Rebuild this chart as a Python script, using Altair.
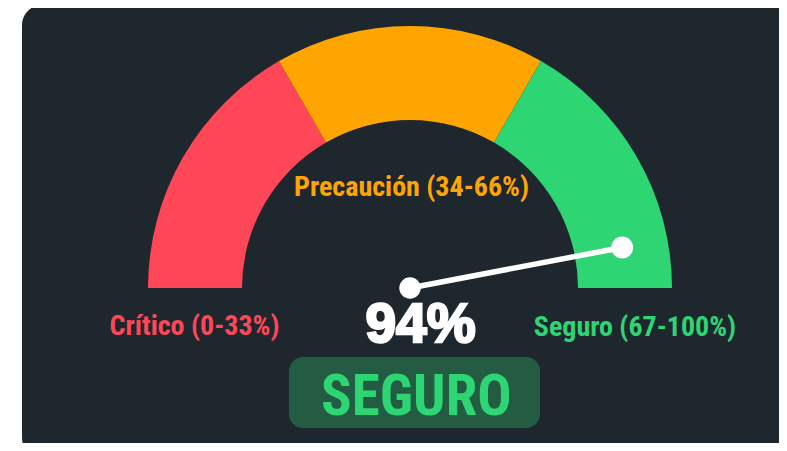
import math
import altair as alt
import pandas as pd

# ---- data ----
zone_names = ["Crítico", "Precaución", "Seguro"]
zone_start = [0, 33.33, 66.67]
zone_end = [33.33, 66.67, 100]
zone_colors = ["#ff4757", "#ffa502", "#2ed573"]
zone_labels = ["Crítico (0-33%)", "Precaución (34-66%)", "Seguro (67-100%)"]
gauge_value = [94]
status_text = ["SEGURO"]

# ---- layout ----
W, H = 771, 435
CX, CY = 402, 280
R_OUT, R_IN = 262, 168
NEEDLE = 216
BG = "#1f272e"
LABEL_FONT = "Roboto Condensed, Roboto, sans-serif"

zones = pd.DataFrame({"name": zone_names, "start": zone_start, "end": zone_end})
val_df = pd.DataFrame({"value": gauge_value})
status_df = pd.DataFrame({"status": status_text})

panel = alt.Chart(pd.DataFrame({"k": [0]})).mark_rect(
    fill=BG, cornerRadius=20
).encode(x=alt.value(14), x2=alt.value(W + 40), y=alt.value(-3), y2=alt.value(H + 15))

arcs = alt.Chart(zones).mark_arc(radius=R_OUT, radius2=R_IN).encode(
    theta=alt.Theta("start:Q", scale=alt.Scale(domain=[0, 100], range=[-math.pi / 2, math.pi / 2])),
    theta2="end:Q",
    color=alt.Color("name:N", scale=alt.Scale(domain=zone_names, range=zone_colors), legend=None),
    x=alt.value(CX),
    y=alt.value(CY),
)

needle_base = alt.Chart(val_df).transform_calculate(
    cx=f"{CX}",
    cy=f"{CY}",
    tx=f"{CX} - {NEEDLE} * cos(PI * datum.value / 100)",
    ty=f"{CY} - {NEEDLE} * sin(PI * datum.value / 100)",
    label="datum.value + '%'",
)

needle = needle_base.mark_rule(color="white", strokeWidth=5.5, strokeCap="round").encode(
    x=alt.X("cx:Q", scale=None, axis=None),
    y=alt.Y("cy:Q", scale=None, axis=None),
    x2="tx:Q",
    y2="ty:Q",
)
tip_dot = needle_base.mark_circle(color="white", opacity=1, size=480).encode(
    x=alt.X("tx:Q", scale=None, axis=None),
    y=alt.Y("ty:Q", scale=None, axis=None),
)
center_dot = needle_base.mark_circle(color="white", opacity=1, size=460).encode(
    x=alt.X("cx:Q", scale=None, axis=None),
    y=alt.Y("cy:Q", scale=None, axis=None),
)

label_pos = [(186.5, 327), (403.5, 188), (627, 328)]
label_layers = []
for i, (lx, ly) in enumerate(label_pos):
    label_layers.append(
        alt.Chart(pd.DataFrame({"t": [zone_labels[i]]})).mark_text(
            font=LABEL_FONT, fontWeight="bold", fontSize=28, color=zone_colors[i],
            align="center", baseline="alphabetic",
        ).encode(text="t:N", x=alt.value(lx), y=alt.value(ly))
    )

value_text = needle_base.mark_text(
    font="Liberation Sans", fontWeight="bold", fontSize=55, color="white",
    stroke="white", strokeWidth=2.5, align="center", baseline="alphabetic",
).encode(text="label:N", x=alt.value(412.5), y=alt.value(334))

badge = alt.Chart(status_df).mark_rect(
    fill="#2ed573", opacity=0.3, cornerRadius=14
).encode(x=alt.value(281), x2=alt.value(532), y=alt.value(349), y2=alt.value(420))

badge_text = alt.Chart(status_df).mark_text(
    font=LABEL_FONT, fontWeight="bold", fontSize=57, color="#2ed573",
    align="center", baseline="alphabetic",
).encode(text="status:N", x=alt.value(408.3), y=alt.value(407))

chart = alt.layer(
    panel, arcs, needle, tip_dot, center_dot, *label_layers, value_text, badge, badge_text
).properties(
    width=W, height=H, background="white", padding=0,
    autosize=alt.AutoSizeParams(type="none"),
).configure_view(stroke=None)

chart.save("out.html", embed_options={"renderer": "svg", "actions": False})
